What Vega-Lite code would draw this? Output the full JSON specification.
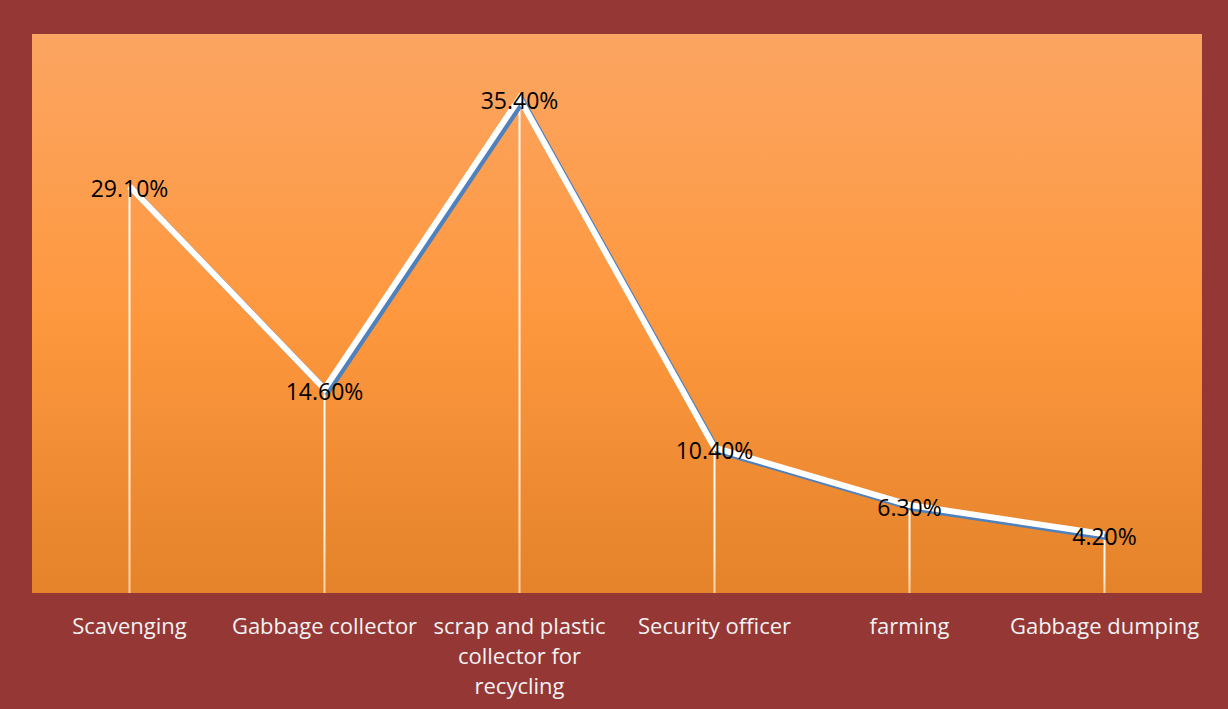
{
  "$schema": "https://vega.github.io/schema/vega-lite/v6.json",
  "autosize": {"type": "none"},
  "width": 1170,
  "height": 559,
  "padding": {"left": 32, "top": 34, "right": 26, "bottom": 116},
  "background": "#953735",
  "config": {
    "view": {
      "stroke": null,
      "fill": {
        "gradient": "linear",
        "x1": 0, "y1": 0, "x2": 0, "y2": 1,
        "stops": [
          {"offset": 0, "color": "#FBA562"},
          {"offset": 0.5, "color": "#FE983F"},
          {"offset": 1, "color": "#E4832A"}
        ]
      }
    },
    "font": "Open Sans"
  },
  "data": {
    "values": [
      {"category": "Scavenging", "value": 0.291},
      {"category": "Gabbage collector", "value": 0.146},
      {"category": "scrap and plastic collector for recycling", "value": 0.354},
      {"category": "Security officer", "value": 0.104},
      {"category": "farming", "value": 0.063},
      {"category": "Gabbage dumping", "value": 0.042}
    ]
  },
  "encoding": {
    "x": {
      "field": "category",
      "type": "nominal",
      "sort": null,
      "scale": {"type": "band", "paddingInner": 0, "paddingOuter": 0},
      "axis": {
        "title": null,
        "domain": false,
        "ticks": false,
        "grid": false,
        "labelAngle": 0,
        "labelFont": "Open Sans",
        "labelFontSize": 22,
        "labelColor": "#F2F2F2",
        "labelPadding": 23,
        "labelLineHeight": 30,
        "labelLimit": 300,
        "labelOverlap": false,
        "labelExpr": "datum.label == 'scrap and plastic collector for recycling' ? ['scrap and plastic', 'collector for', 'recycling'] : datum.label"
      }
    },
    "y": {
      "field": "value",
      "type": "quantitative",
      "scale": {"domain": [0, 0.4], "nice": false, "zero": true},
      "axis": null
    }
  },
  "layer": [
    {
      "mark": {
        "type": "bar",
        "width": 2,
        "fill": {
          "gradient": "linear",
          "x1": 0, "y1": 0, "x2": 0, "y2": 1,
          "stops": [
            {"offset": 0, "color": "#FFFFFF"},
            {"offset": 0.7, "color": "#FFF0E0"},
            {"offset": 1, "color": "#FFD0A0"}
          ]
        }
      }
    },
    {
      "mark": {
        "type": "line",
        "stroke": "#4F81BD",
        "strokeWidth": 6,
        "xOffset": 3,
        "yOffset": 3,
        "strokeJoin": "miter"
      }
    },
    {
      "mark": {
        "type": "line",
        "stroke": "#FFFFFF",
        "strokeWidth": 6,
        "strokeJoin": "miter"
      }
    },
    {
      "mark": {
        "type": "text",
        "font": "Open Sans",
        "fontSize": 23,
        "color": "#000000",
        "align": "center",
        "baseline": "middle",
        "dy": 4
      },
      "encoding": {
        "text": {"field": "value", "type": "quantitative", "format": ".2%"}
      }
    }
  ]
}
